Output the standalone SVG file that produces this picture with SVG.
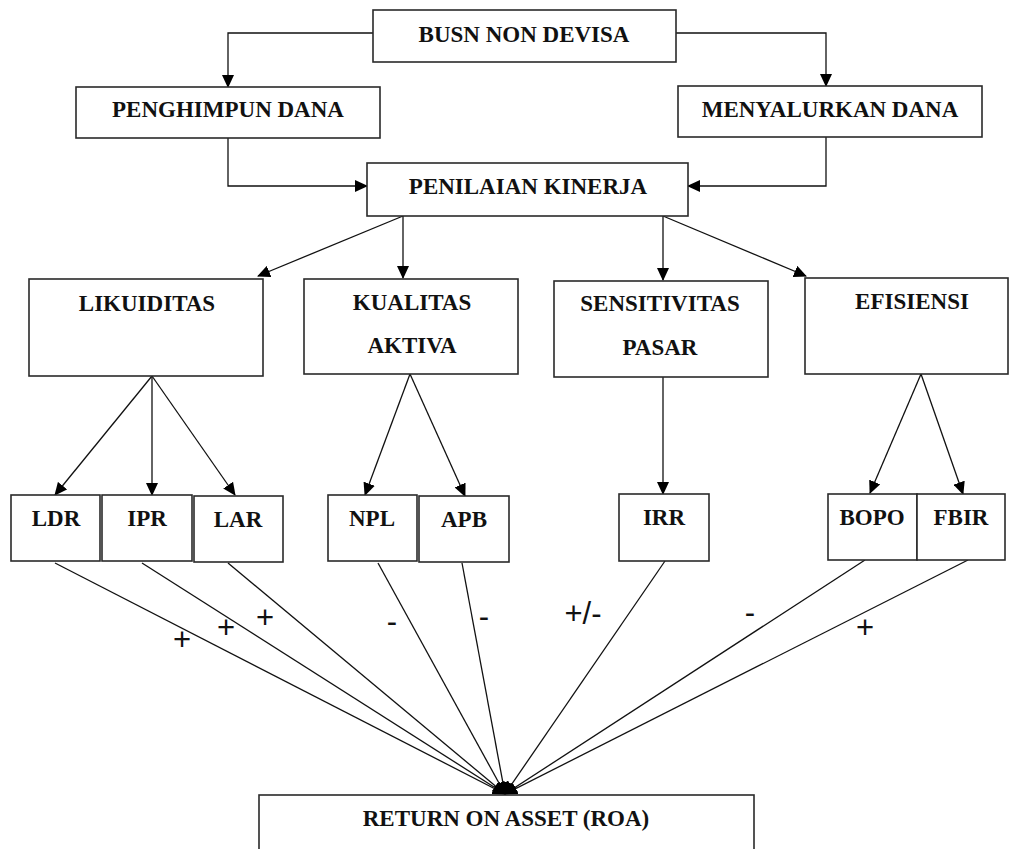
<svg xmlns="http://www.w3.org/2000/svg" width="1009" height="849" viewBox="0 0 1009 849">
<style>
.box{fill:#fff;stroke:#2a2a2a;stroke-width:1.6}
.t{font-family:"Liberation Serif","Times New Roman",serif;font-weight:bold;font-size:23px;fill:#111;text-anchor:middle}
.c{fill:none;stroke:#111;stroke-width:1.3}
.a{marker-end:url(#ah)}
.s{font-family:"Liberation Sans",Arial,sans-serif;font-size:31px;fill:#111;text-anchor:middle}
</style>
<defs>
<marker id="ah" markerUnits="userSpaceOnUse" markerWidth="13" markerHeight="12" refX="12" refY="6" orient="auto">
<path d="M0,0 L13,6 L0,12 z" fill="#000"/>
</marker>
</defs>
<rect width="1009" height="849" fill="#fff"/>
<g id="connectors">
<polyline class="c a" points="373,33 228,33 228,87"/>
<polyline class="c a" points="676,33 826,33 826,86"/>
<polyline class="c a" points="228,138 228,186 367,186"/>
<polyline class="c a" points="826,137 826,186 688,186"/>
<line class="c a" x1="403" y1="216" x2="258" y2="276"/>
<line class="c a" x1="403" y1="216" x2="403" y2="278"/>
<line class="c a" x1="663" y1="216" x2="663" y2="280"/>
<line class="c a" x1="663" y1="216" x2="806" y2="276"/>
<line class="c a" x1="152" y1="376" x2="55" y2="495"/>
<line class="c a" x1="152" y1="376" x2="152" y2="495"/>
<line class="c a" x1="152" y1="376" x2="235" y2="495"/>
<line class="c a" x1="410" y1="374" x2="365" y2="495"/>
<line class="c a" x1="410" y1="374" x2="465" y2="496"/>
<line class="c a" x1="663" y1="377" x2="663" y2="494"/>
<line class="c a" x1="921" y1="374" x2="870" y2="493"/>
<line class="c a" x1="921" y1="374" x2="963" y2="494"/>
<line class="c a" x1="55" y1="563" x2="505" y2="794"/>
<line class="c a" x1="142" y1="563" x2="505" y2="794"/>
<line class="c a" x1="228" y1="563" x2="505" y2="794"/>
<line class="c a" x1="378" y1="563" x2="505" y2="794"/>
<line class="c a" x1="462" y1="563" x2="505" y2="794"/>
<line class="c a" x1="665" y1="561" x2="505" y2="794"/>
<line class="c a" x1="865" y1="560" x2="505" y2="794"/>
<line class="c a" x1="968" y1="560" x2="505" y2="794"/>
<text class="s" x="182" y="650">+</text>
<text class="s" x="226" y="638">+</text>
<text class="s" x="265" y="628">+</text>
<text class="s" x="392" y="632">-</text>
<text class="s" x="484" y="627">-</text>
<text class="s" x="583" y="624">+/-</text>
<text class="s" x="750" y="623">-</text>
<text class="s" x="865" y="638">+</text>
</g>
<g id="busn"><rect class="box" x="373" y="10" width="303" height="52"/><text class="t" x="524" y="42">BUSN NON DEVISA</text></g>
<g id="penghimpun"><rect class="box" x="76" y="87" width="304" height="51"/><text class="t" x="228" y="117">PENGHIMPUN DANA</text></g>
<g id="menyalurkan"><rect class="box" x="678" y="86" width="304" height="51"/><text class="t" x="830" y="117">MENYALURKAN DANA</text></g>
<g id="penilaian"><rect class="box" x="367" y="163" width="321" height="53"/><text class="t" x="528" y="194">PENILAIAN KINERJA</text></g>
<g id="likuiditas"><rect class="box" x="29" y="279" width="234" height="97"/><text class="t" x="147" y="311">LIKUIDITAS</text></g>
<g id="kualitas"><rect class="box" x="304" y="279" width="214" height="95"/><text class="t" x="412" y="310">KUALITAS</text><text class="t" x="412" y="353">AKTIVA</text></g>
<g id="sensitivitas"><rect class="box" x="554" y="281" width="214" height="96"/><text class="t" x="660" y="311">SENSITIVITAS</text><text class="t" x="660" y="355">PASAR</text></g>
<g id="efisiensi"><rect class="box" x="805" y="278" width="203" height="96"/><text class="t" x="912" y="309">EFISIENSI</text></g>
<g id="ldr"><rect class="box" x="11" y="495" width="89" height="66"/><text class="t" x="56" y="526">LDR</text></g>
<g id="ipr"><rect class="box" x="102" y="495" width="90" height="66"/><text class="t" x="147" y="526">IPR</text></g>
<g id="lar"><rect class="box" x="194" y="496" width="89" height="66"/><text class="t" x="238" y="527">LAR</text></g>
<g id="npl"><rect class="box" x="328" y="495" width="89" height="66"/><text class="t" x="372" y="526">NPL</text></g>
<g id="apb"><rect class="box" x="419" y="496" width="90" height="66"/><text class="t" x="464" y="527">APB</text></g>
<g id="irr"><rect class="box" x="619" y="494" width="90" height="67"/><text class="t" x="664" y="525">IRR</text></g>
<g id="bopo"><rect class="box" x="828" y="494" width="89" height="66"/><text class="t" x="872" y="525">BOPO</text></g>
<g id="fbir"><rect class="box" x="917" y="494" width="88" height="66"/><text class="t" x="961" y="525">FBIR</text></g>
<g id="roa"><rect class="box" x="259" y="795" width="495" height="70"/><text class="t" x="506" y="826">RETURN ON ASSET (ROA)</text></g>
</svg>
